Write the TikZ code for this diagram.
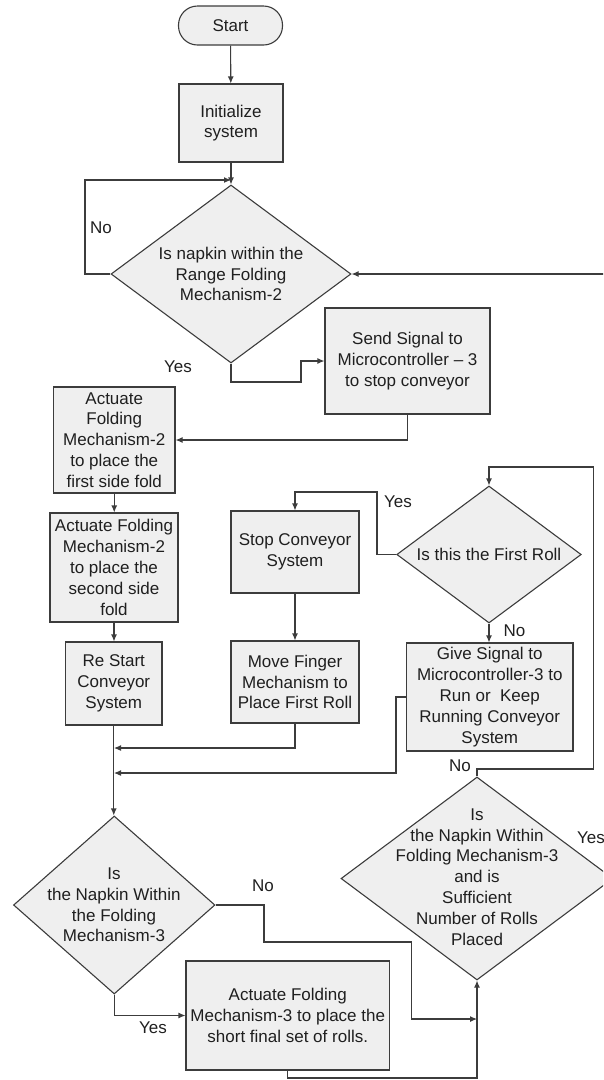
\documentclass[tikz,border=0pt]{standalone}
\usepackage{fontspec}
\setmainfont{Liberation Sans}
\usetikzlibrary{shapes.geometric,arrows.meta}
\definecolor{boxfill}{HTML}{EFEFEF}
\definecolor{edgecol}{HTML}{3C3C3C}
\begin{document}
\begin{tikzpicture}[x=1pt,y=-1pt,
  every node/.style={font=\fontsize{17}{20.8}\selectfont, text=black!88},
  box/.style={draw=edgecol, fill=boxfill, line width=1.1pt, rectangle, inner sep=0pt, align=center},
  dia/.style={draw=edgecol, fill=boxfill, line width=1.1pt, diamond, inner sep=0pt},
  txt/.style={align=center, inner sep=0pt},
  lbl/.style={inner sep=0pt},
  conn/.style={draw=edgecol, line width=1.1pt},
  arr/.style={conn, -{Latex[length=7pt,width=6pt]}}
]
\useasboundingbox (0,0) rectangle (603,1080);
\clip (0,0) rectangle (603,1080);

% nodes
\node[box, rounded corners=19pt, minimum width=104pt, minimum height=39pt] (start) at (230.5,25.5) {Start};
\node[box, minimum width=104pt, minimum height=78pt] (init) at (231,123) {Initialize\\system};

\node[dia, minimum width=240pt, minimum height=178pt] (d1) at (231,274) {};
\node[txt] (d1t) at (231,274) {Is napkin within the\\Range Folding\\Mechanism-2};

\node[box, minimum width=165pt, minimum height=106pt] (send) at (407.5,361) {Send Signal to\\Microcontroller -- 3\\to stop conveyor};

\node[box, minimum width=121.5pt, minimum height=106pt] (act1) at (114.25,440) {Actuate\\Folding\\Mechanism-2\\to place the\\first side fold};
\node[box, minimum width=128pt, minimum height=109pt] (act2) at (114,567.5) {Actuate Folding\\Mechanism-2\\to place the\\second side\\fold};
\node[box, minimum width=96.5pt, minimum height=83pt] (restart) at (113.75,683.5) {Re Start\\Conveyor\\System};

\node[box, minimum width=128pt, minimum height=82pt] (stop) at (295,552) {Stop Conveyor\\System};
\node[box, minimum width=128pt, minimum height=82pt] (move) at (295,682) {Move Finger\\Mechanism to\\Place First Roll};

\node[dia, minimum width=184.5pt, minimum height=137pt] (d2) at (489,554.5) {};
\node[txt] (d2t) at (489,554.5) {Is this the First Roll};

\node[box, minimum width=166.5pt, minimum height=108pt] (give) at (489.75,697) {Give Signal to\\Microcontroller-3 to\\Run or\ \ Keep\\Running Conveyor\\System};

\node[dia, minimum width=272pt, minimum height=203pt] (d3) at (477,878.5) {};
\node[txt] (d3t) at (477,877) {Is\\the Napkin Within\\Folding Mechanism-3\\and is\\Sufficient\\Number of Rolls\\Placed};

\node[dia, minimum width=201.5pt, minimum height=178pt] (d4) at (114.25,905) {};
\node[txt] (d4t) at (114,905) {Is\\the Napkin Within\\the Folding\\Mechanism-3};

\node[box, minimum width=203.5pt, minimum height=109pt] (act3) at (287.75,1015.5) {Actuate Folding\\Mechanism-3 to place the\\short final set of rolls.};

% labels
\node[lbl] (l1) at (101,228) {No};
\node[lbl] (l2) at (178,367) {Yes};
\node[lbl] (l3) at (398,502) {Yes};
\node[lbl] (l4) at (514.5,631) {No};
\node[lbl] (l5) at (460,766) {No};
\node[lbl] (l6) at (263,886) {No};
\node[lbl] (l7) at (153,1028) {Yes};
\node[lbl] (l8) at (591,838) {Yes};

% junction coordinates
\coordinate (j1) at (231,180);
\coordinate (jr) at (620,274);
\coordinate (j2) at (114,748);
\coordinate (j3) at (114,773);
\coordinate (j4) at (477,1019);

% connectors
\draw[arr] (start) -- (init);
\draw[arr] (init) -- (d1.north);
\draw[arr] (d1.west) -- (85,274) -- (85,180) -- (j1);
\draw[arr] (jr) -- (d1.east);
\draw[arr] (d1.south) -- (231,382) -- (301,382) -- (301,361) -- (send.west);
\draw[arr] (send.south) -- (407.5,440) -- (act1.east);
\draw[arr] (act1) -- (act1 |- act2.north);
\draw[arr] (act2) -- (act2 |- restart.north);
\draw[arr] (restart.south) -- (restart.south |- d4.north);
\draw[arr] (move.south) -- (295,748) -- (j2);
\draw[arr] (give.west) -- (396,697) -- (396,773) -- (j3);
\draw[arr] (stop) -- (move);
\draw[arr] (d2.west) -- (377,554.5) -- (377,492) -- (295,492) -- (stop.north);
\draw[arr] (d2.south) -- (give.north -| d2.south);
\draw[arr] (d3.north) -- (477,769) -- (593.5,769) -- (593.5,467) -- (489,467) -- (d2.north);
\draw[arr] (d4.east) -- (264,905) -- (264,942) -- (411.5,942) -- (411.5,1019) -- (j4);
\draw[arr] (d4.south) -- (114.25,1015.5) -- (act3.west);
\draw[arr] (act3.south) -- (287.75,1078) -- (477,1078) -- (d3.south);
\end{tikzpicture}
\end{document}
